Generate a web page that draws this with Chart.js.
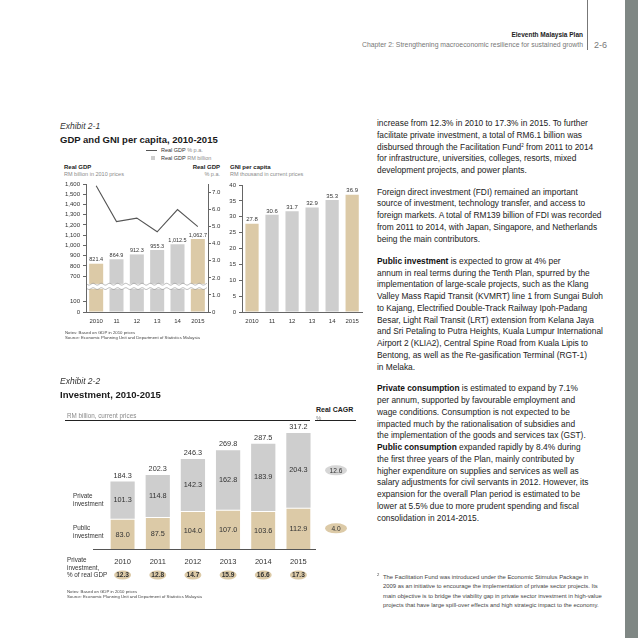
<!DOCTYPE html>
<html>
<head>
<meta charset="utf-8">
<script src="https://cdn.jsdelivr.net/npm/chart.js@4.4.0/dist/chart.umd.min.js"></script>
<style>
html, body { margin: 0; padding: 0; background: #fff; }
#page { position: relative; width: 638px; height: 638px; overflow: hidden;
  font-family: "Liberation Sans", Arial, Helvetica, sans-serif; color: #333; }
.t { position: absolute; white-space: nowrap; line-height: 1; }
.para { position: absolute; left: 377px; white-space: nowrap; font-size: 8.35px; line-height: 11.75px; color: #222; }
.para b { color: #111; }
.para sup { font-size: 4.5px; vertical-align: 3px; line-height: 0; }
.rule { position: absolute; height: 1px; background: #222; }
canvas { position: absolute; }
.grey { color: #8a8a8a; }
</style>
</head>
<body>
<div id="page">
  <!-- page header -->
  <div style="position:absolute;left:625px;top:0;width:13px;height:638px;background:#7f8784"></div>
  <div style="position:absolute;left:587px;top:0;width:1px;height:50px;background:#777"></div>
  <div class="t" style="right:55px;top:31.5px;font-size:6.5px;font-weight:bold;color:#222">Eleventh Malaysia Plan</div>
  <div class="t" style="right:55px;top:42px;font-size:6.85px;color:#777">Chapter 2: Strengthening macroeconomic resilience for sustained growth</div>
  <div class="t" style="left:594px;top:41px;font-size:9px;color:#777">2-6</div>

  <!-- Exhibit 2-1 -->
  <div class="t" style="left:60px;top:122px;font-size:8.5px;font-style:italic;color:#333">Exhibit 2-1</div>
  <div class="t" style="left:60px;top:135px;font-size:9.5px;font-weight:bold;color:#1a1a1a">GDP and GNI per capita, 2010-2015</div>
  <div style="position:absolute;left:146px;top:150px;width:11px;height:1px;background:#555"></div>
  <div class="t" style="left:161px;top:147.5px;font-size:5.5px">Real GDP <span class="grey">% p.a.</span></div>
  <div style="position:absolute;left:151px;top:156px;width:4px;height:4px;background:#cdcdcd"></div>
  <div class="t" style="left:161px;top:155.5px;font-size:5.5px">Real GDP <span class="grey">RM billion</span></div>

  <div class="t" style="left:64px;top:163.5px;font-size:6px;font-weight:bold;color:#222">Real GDP</div>
  <div class="t grey" style="left:64px;top:171.5px;font-size:5.5px">RM billion in 2010 prices</div>
  <div class="t" style="right:418px;top:163.5px;font-size:6px;font-weight:bold;color:#222">Real GDP</div>
  <div class="t grey" style="right:418px;top:171.5px;font-size:5.5px">% p.a.</div>
  <div class="t" style="left:230px;top:163.5px;font-size:6px;font-weight:bold;color:#222">GNI per capita</div>
  <div class="t grey" style="left:230px;top:171.5px;font-size:5.5px">RM thousand in current prices</div>

  <canvas id="gdpChart" width="172" height="156" style="left:56px;top:176px"></canvas>
  <canvas id="gniChart" width="159" height="155" style="left:206px;top:177px"></canvas>

  <div class="t" style="left:65px;top:330.5px;font-size:4.3px;color:#444">Notes: Based on GDP in 2010 prices</div>
  <div class="t" style="left:65px;top:336px;font-size:4.3px;color:#444">Source: Economic Planning Unit and Department of Statistics Malaysia</div>

  <!-- Exhibit 2-2 -->
  <div class="t" style="left:60px;top:377px;font-size:8.5px;font-style:italic;color:#333">Exhibit 2-2</div>
  <div class="t" style="left:60px;top:390px;font-size:9.5px;font-weight:bold;color:#1a1a1a">Investment, 2010-2015</div>
  <div class="t grey" style="left:67px;top:412.5px;font-size:6.3px">RM billion, current prices</div>
  <div class="t" style="left:316px;top:406px;font-size:7px;font-weight:bold;color:#222">Real CAGR</div>
  <div class="t grey" style="left:316px;top:415px;font-size:6px">%</div>
  <div class="rule" style="left:65px;top:420px;width:245px"></div>
  <div class="rule" style="left:315px;top:420px;width:41px"></div>

  <canvas id="invChart" width="300" height="200" style="left:60px;top:410px"></canvas>

  <div class="t" style="left:73px;top:492px;font-size:6.3px;line-height:8.3px">Private<br>investment</div>
  <div class="t" style="left:73px;top:524px;font-size:6.3px;line-height:8.3px">Public<br>investment</div>
  <div class="t" style="left:67px;top:556px;font-size:6.3px;line-height:7.5px">Private<br>investment,<br>% of real GDP</div>

  <div class="t" style="left:67px;top:589.5px;font-size:4.3px;color:#444">Notes: Based on GDP in 2010 prices</div>
  <div class="t" style="left:67px;top:595px;font-size:4.3px;color:#444">Source: Economic Planning Unit and Department of Statistics Malaysia</div>

  <!-- body text -->
  <div class="para" style="top:118px">
    increase from 12.3% in 2010 to 17.3% in 2015. To further<br>
    facilitate private investment, a total of RM6.1 billion was<br>
    disbursed through the Facilitation Fund<sup>2</sup> from 2011 to 2014<br>
    for infrastructure, universities, colleges, resorts, mixed<br>
    development projects, and power plants.
  </div>
  <div class="para" style="top:186.6px">
    Foreign direct investment (FDI) remained an important<br>
    source of investment, technology transfer, and access to<br>
    foreign markets. A total of RM139 billion of FDI was recorded<br>
    from 2011 to 2014, with Japan, Singapore, and Netherlands<br>
    being the main contributors.
  </div>
  <div class="para" style="top:255.8px">
    <b>Public investment</b> is expected to grow at 4% per<br>
    annum in real terms during the Tenth Plan, spurred by the<br>
    implementation of large-scale projects, such as the Klang<br>
    Valley Mass Rapid Transit (KVMRT) line 1 from Sungai Buloh<br>
    to Kajang, Electrified Double-Track Railway Ipoh-Padang<br>
    Besar, Light Rail Transit (LRT) extension from Kelana Jaya<br>
    and Sri Petaling to Putra Heights, Kuala Lumpur International<br>
    Airport 2 (KLIA2), Central Spine Road from Kuala Lipis to<br>
    Bentong, as well as the Re-gasification Terminal (RGT-1)<br>
    in Melaka.
  </div>
  <div class="para" style="top:383.4px">
    <b>Private consumption</b> is estimated to expand by 7.1%<br>
    per annum, supported by favourable employment and<br>
    wage conditions. Consumption is not expected to be<br>
    impacted much by the rationalisation of subsidies and<br>
    the implementation of the goods and services tax (GST).<br>
    <b>Public consumption</b> expanded rapidly by 8.4% during<br>
    the first three years of the Plan, mainly contributed by<br>
    higher expenditure on supplies and services as well as<br>
    salary adjustments for civil servants in 2012. However, its<br>
    expansion for the overall Plan period is estimated to be<br>
    lower at 5.5% due to more prudent spending and fiscal<br>
    consolidation in 2014-2015.
  </div>

  <div class="t" style="left:377px;top:573px;font-size:4.2px;color:#444">2</div>
  <div class="t" style="left:383px;top:573px;font-size:5.9px;line-height:9.3px;color:#444">
    The Facilitation Fund was introduced under the Economic Stimulus Package in<br>
    2009 as an initiative to encourage the implementation of private sector projects. Its<br>
    main objective is to bridge the viability gap in private sector investment in high-value<br>
    projects that have large spill-over effects and high strategic impact to the economy.
  </div>
</div>

<script>
// ---- data ----
const gdpYears = ['2010', '11', '12', '13', '14', '2015'];
const realGdp = [821.4, 864.9, 912.3, 955.3, 1012.5, 1062.7];   // RM billion
const realGdpGrowth = [7.4, 5.3, 5.5, 4.7, 6.0, 5.0];         // % p.a.
const gdpAxisTicks = [0, 100, 700, 800, 900, 1000, 1100, 1200, 1300, 1400, 1500, 1600];
const growthAxisMax = 7.5;
const gniPerCapita = [27.8, 30.6, 31.7, 32.9, 35.3, 36.9];    // RM thousand
const gniAxisMax = 40;

const invYears = ['2010', '2011', '2012', '2013', '2014', '2015'];
const publicInv = [83.0, 87.5, 104.0, 107.0, 103.6, 112.9];
const privateInv = [101.3, 114.8, 142.3, 162.8, 183.9, 204.3];
const totalInv = [184.3, 202.3, 246.3, 269.8, 287.5, 317.2];
const privShareGdp = [12.3, 12.8, 14.7, 15.9, 16.6, 17.3];
const cagrPrivate = 12.6;
const cagrPublic = 4.0;

// the GDP axis skips the range between the break and 700
const gdpCut = 350;
const gdpBreakAt = 250;
const toDisplay = v => v >= 600 ? v - gdpCut : v;

const tan = '#dccaa7';
const grey = '#cecece';
const FONT = '"Liberation Sans", Arial, sans-serif';

Chart.defaults.font.family = FONT;
Chart.defaults.color = '#333';
Chart.defaults.animation = false;

const highlight = arr => arr.map((_, i) => (i === 0 || i === arr.length - 1) ? tan : grey);

function barTopLabels(values, fmt, size) {
  return {
    id: 'barTopLabels',
    afterDatasetsDraw(chart) {
      const ctx = chart.ctx;
      const bars = chart.getDatasetMeta(chart.data.datasets.findIndex(d => d.type !== 'line')).data;
      ctx.save();
      ctx.font = size + 'px ' + FONT;
      ctx.fillStyle = '#333';
      ctx.textAlign = 'center';
      ctx.textBaseline = 'bottom';
      bars.forEach((b, i) => ctx.fillText(fmt(values[i]), b.x, b.y - 1));
      ctx.restore();
    }
  };
}

const axisBreak = {
  id: 'axisBreak',
  afterDatasetsDraw(chart) {
    const { ctx, chartArea } = chart;
    const y = chart.scales.y.getPixelForValue(gdpBreakAt);
    const x0 = chartArea.left + 1, x1 = chartArea.right - 1;
    ctx.save();
    ctx.fillStyle = '#fff';
    ctx.fillRect(x0, y - 2.5, x1 - x0, 5);
    ctx.strokeStyle = '#999';
    ctx.lineWidth = 0.7;
    [-2.2, 2.2].forEach(dy => {
      ctx.beginPath();
      for (let x = x0; x <= x1; x += 0.5) {
        const yy = y + dy + Math.sin((x - x0) / 1.3) * 0.9;
        if (x === x0) ctx.moveTo(x, yy); else ctx.lineTo(x, yy);
      }
      ctx.stroke();
    });
    ctx.restore();
  }
};

const gdpFmt = v => v.toLocaleString('en-US', { minimumFractionDigits: 1, maximumFractionDigits: 1 });

const xAxisSmall = {
  grid: { display: false, drawTicks: false },
  border: { display: true, color: '#666' },
  ticks: { font: { size: 6 }, padding: 6, autoSkip: false, maxRotation: 0 },
  afterFit: s => { s.height = 20; }
};

new Chart(document.getElementById('gdpChart'), {
  data: {
    labels: gdpYears,
    datasets: [
      { type: 'line', data: realGdpGrowth, yAxisID: 'y1', borderColor: '#555', borderWidth: 1.1,
        pointRadius: 0, tension: 0, order: 0 },
      { type: 'bar', data: realGdp.map(toDisplay), yAxisID: 'y', backgroundColor: highlight(realGdp),
        barPercentage: 0.69, categoryPercentage: 1, order: 1 }
    ]
  },
  options: {
    responsive: false,
    layout: { padding: { top: 8, left: 0, right: 0, bottom: 0 } },
    plugins: { legend: { display: false }, tooltip: { enabled: false } },
    scales: {
      x: xAxisSmall,
      y: {
        position: 'left', min: 0, max: toDisplay(1600),
        afterBuildTicks: s => { s.ticks = gdpAxisTicks.map(v => ({ value: toDisplay(v) })); },
        ticks: { font: { size: 6 }, padding: 3, callback: (v, i) => gdpAxisTicks[i].toLocaleString('en-US') },
        grid: { drawOnChartArea: false, tickLength: 3, color: '#666' },
        border: { color: '#666' },
        afterFit: s => { s.width = 30; }
      },
      y1: {
        position: 'right', min: 0, max: growthAxisMax,
        ticks: { stepSize: 0.5, font: { size: 6 }, padding: 1, callback: v => v === 0 ? '0' : v.toFixed(1) },
        grid: { drawOnChartArea: false, tickLength: 3, color: '#666' },
        border: { color: '#666' },
        afterFit: s => { s.width = 20; }
      }
    }
  },
  plugins: [barTopLabels(realGdp, gdpFmt, 5.5), axisBreak]
});

new Chart(document.getElementById('gniChart'), {
  type: 'bar',
  data: {
    labels: gdpYears,
    datasets: [{ data: gniPerCapita, backgroundColor: highlight(gniPerCapita),
      barPercentage: 0.66, categoryPercentage: 1 }]
  },
  options: {
    responsive: false,
    layout: { padding: { top: 8, left: 0, right: 2, bottom: 0 } },
    plugins: { legend: { display: false }, tooltip: { enabled: false } },
    scales: {
      x: xAxisSmall,
      y: {
        min: 0, max: gniAxisMax,
        ticks: { stepSize: 5, font: { size: 6 }, padding: 3 },
        grid: { drawOnChartArea: false, tickLength: 3, color: '#666' },
        border: { color: '#666' },
        afterFit: s => { s.width = 36; }
      }
    }
  },
  plugins: [barTopLabels(gniPerCapita, v => v.toFixed(1), 6)]
});

// investment chart
const investLabels = {
  id: 'investLabels',
  afterDatasetsDraw(chart) {
    const { ctx, chartArea, scales } = chart;
    const pub = chart.getDatasetMeta(0).data;
    const priv = chart.getDatasetMeta(1).data;
    ctx.save();
    ctx.textAlign = 'center';
    ctx.textBaseline = 'middle';
    ctx.fillStyle = '#333';
    ctx.font = '7.3px ' + FONT;
    pub.forEach((b, i) => ctx.fillText(publicInv[i].toFixed(1), b.x, (b.y + b.base) / 2 + 1));
    priv.forEach((b, i) => {
      ctx.fillText(privateInv[i].toFixed(1), b.x, (b.y + b.base) / 2);
      ctx.fillText(totalInv[i].toFixed(1), b.x, b.y - 6);
    });

    // baseline runs a little past the first bar
    ctx.strokeStyle = '#555';
    ctx.lineWidth = 1;
    ctx.beginPath();
    ctx.moveTo(chartArea.left - 12, chartArea.bottom + 0.5);
    ctx.lineTo(chartArea.right, chartArea.bottom + 0.5);
    ctx.stroke();

    // private investment % of GDP row
    const py = chartArea.bottom + 26;
    ctx.font = 'bold 6.6px ' + FONT;
    privShareGdp.forEach((v, i) => {
      const x = scales.x.getPixelForValue(i);
      ctx.fillStyle = tan;
      ctx.beginPath(); ctx.ellipse(x, py, 8.5, 4.6, 0, 0, Math.PI * 2); ctx.fill();
      ctx.fillStyle = '#333';
      ctx.fillText(v.toFixed(1), x, py + 0.5);
    });

    // real CAGR bubbles next to the last bar
    const last = pub.length - 1;
    const cx = chartArea.right + 20;
    ctx.font = '6.6px ' + FONT;
    [[priv[last], cagrPrivate, '#d6d6d6'], [pub[last], cagrPublic, tan]].forEach(([b, v, c]) => {
      const cy = (b.y + b.base) / 2;
      ctx.fillStyle = c;
      ctx.beginPath(); ctx.ellipse(cx, cy, 11, 5, 0, 0, Math.PI * 2); ctx.fill();
      ctx.fillStyle = '#333';
      ctx.fillText(v.toFixed(1), cx, cy + 0.5);
    });
    ctx.restore();
  }
};

new Chart(document.getElementById('invChart'), {
  type: 'bar',
  data: {
    labels: invYears,
    datasets: [
      { label: 'Public investment', data: publicInv, backgroundColor: tan,
        borderColor: '#fff', borderWidth: { top: 1, left: 0, right: 0, bottom: 0 } },
      { label: 'Private investment', data: privateInv, backgroundColor: grey, borderWidth: 0 }
    ]
  },
  options: {
    responsive: false,
    layout: { padding: { top: 11, left: 45, right: 44, bottom: 0 } },
    datasets: { bar: { barPercentage: 0.69, categoryPercentage: 1 } },
    plugins: { legend: { display: false }, tooltip: { enabled: false } },
    scales: {
      x: {
        stacked: true,
        grid: { display: false, drawTicks: false },
        border: { display: false },
        ticks: { font: { size: 7.5 }, padding: 8, autoSkip: false, maxRotation: 0 },
        afterFit: s => { s.height = 61; }
      },
      y: { stacked: true, display: false, min: 0, max: 350 }
    }
  },
  plugins: [investLabels]
});
</script>
</body>
</html>
